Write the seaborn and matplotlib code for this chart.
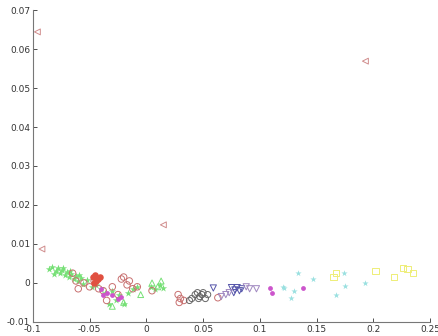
import matplotlib
matplotlib.use('Agg')
import matplotlib.pyplot as plt
import seaborn as sns
from matplotlib.ticker import FuncFormatter

# outliers (left-pointing triangles)
outlier_x = [-0.096, 0.193, 0.015, -0.092]
outlier_y = [0.0644, 0.0569, 0.0149, 0.0087]

green_star_x = [-0.086, -0.083, -0.080, -0.078, -0.076, -0.074, -0.072, -0.070, -0.068, -0.066,
                -0.064, -0.062, -0.060, -0.058, -0.056, -0.052, -0.048, -0.044, -0.040, -0.036,
                -0.033, -0.030, -0.027, -0.024, -0.020, -0.016, -0.012, -0.008, 0.004, 0.008,
                0.012, 0.015, -0.081, -0.073, -0.067, -0.059]
green_star_y = [0.0035, 0.0040, 0.0030, 0.0037, 0.0025, 0.0032, 0.0020, 0.0028, 0.0015, 0.0022,
                0.0010, 0.0018, 0.0005, 0.0012, -0.0002, 0.0008, -0.0010, -0.0005, -0.0015, -0.0025,
                -0.0055, -0.0020, -0.0045, -0.0030, -0.0055, -0.0025, -0.0015, -0.0010, -0.0010, -0.0015,
                -0.0005, -0.0012, 0.0024, 0.0038, 0.0030, 0.0020]

green_tri_x = [-0.030, -0.020, -0.005, 0.005, 0.010, 0.013]
green_tri_y = [-0.0060, -0.0050, -0.0030, 0.0000, -0.0010, 0.0005]

red_circ_x = [-0.065, -0.062, -0.060, -0.055, -0.050, -0.046, -0.042, -0.038, -0.035, -0.030,
              -0.025, -0.022, -0.020, -0.017, -0.015, -0.012, -0.008, 0.005, 0.028, 0.029,
              0.030, 0.033, 0.063]
red_circ_y = [0.0025, 0.0005, -0.0015, 0.0000, -0.0010, 0.0005, -0.0015, -0.0020, -0.0045, -0.0010,
              -0.0030, 0.0010, 0.0015, -0.0005, 0.0005, -0.0015, -0.0010, -0.0020, -0.0030, -0.0050,
              -0.0040, -0.0045, -0.0038]

red_fill_x = [-0.047, -0.045, -0.043, -0.041, -0.044, -0.046]
red_fill_y = [0.0015, 0.0020, 0.0010, 0.0015, 0.0005, 0.0000]

magenta_x = [-0.038, -0.035, -0.030, -0.025, -0.022, -0.040, 0.109, 0.111, 0.138]
magenta_y = [-0.0030, -0.0025, -0.0030, -0.0040, -0.0035, -0.0015, -0.0013, -0.0026, -0.0013]

black_x = [0.040, 0.043, 0.045, 0.047, 0.049, 0.050, 0.052, 0.054, 0.046, 0.038]
black_y = [-0.0040, -0.0030, -0.0025, -0.0035, -0.0030, -0.0025, -0.0040, -0.0030, -0.0040, -0.0045]

blue_x = [0.059, 0.075, 0.078, 0.080, 0.082, 0.077, 0.084]
blue_y = [-0.0013, -0.0012, -0.0018, -0.0012, -0.0020, -0.0025, -0.0015]

purple_x = [0.070, 0.066, 0.088, 0.091, 0.097, 0.073]
purple_y = [-0.0030, -0.0035, -0.0010, -0.0015, -0.0015, -0.0025]

cyan_x = [0.134, 0.120, 0.130, 0.127, 0.147, 0.174, 0.175, 0.167, 0.193, 0.121]
cyan_y = [0.0026, -0.0010, -0.0020, -0.0038, 0.0010, 0.0026, -0.0008, -0.0030, 0.0000, -0.0013]

yellow_x = [0.167, 0.202, 0.218, 0.226, 0.230, 0.235, 0.165]
yellow_y = [0.0026, 0.0030, 0.0015, 0.0038, 0.0036, 0.0026, 0.0015]

sns.set_style('ticks')
plt.rcParams['axes.unicode_minus'] = False

fig = plt.figure(figsize=(4.38, 3.36), dpi=100)
ax = fig.add_axes([0.075, 0.042, 0.907, 0.928])

groups = [
    (green_star_x, green_star_y, '*', '#77e077', True, 30),
    (green_tri_x, green_tri_y, '^', '#77e077', False, 18),
    (red_circ_x, red_circ_y, 'o', '#c87070', False, 22),
    (red_fill_x, red_fill_y, 'o', '#e05040', True, 22),
    (magenta_x, magenta_y, 'o', '#cc55cc', True, 12),
    (black_x, black_y, 'o', '#666666', False, 20),
    (blue_x, blue_y, 'v', '#5555aa', False, 20),
    (purple_x, purple_y, 'v', '#a088c0', False, 20),
    (cyan_x, cyan_y, '*', '#99e0e0', True, 22),
    (yellow_x, yellow_y, 's', '#eeee77', False, 22),
    (outlier_x, outlier_y, '<', '#d08c8c', False, 18),
]

for gx, gy, m, c, filled, s in groups:
    if filled:
        sns.scatterplot(x=gx, y=gy, marker=m, color=c, s=s, linewidth=0, ax=ax)
    else:
        sns.scatterplot(x=gx, y=gy, marker=m, s=s, facecolor='none', edgecolor=c,
                        linewidth=0.7, ax=ax)

ax.set_xlim(-0.1, 0.25)
ax.set_ylim(-0.01, 0.07)
ax.set_xticks([-0.1, -0.05, 0, 0.05, 0.1, 0.15, 0.2, 0.25])
ax.set_yticks([-0.01, 0, 0.01, 0.02, 0.03, 0.04, 0.05, 0.06, 0.07])
ax.xaxis.set_major_formatter(FuncFormatter(lambda v, p: '%g' % round(v, 3)))
ax.yaxis.set_major_formatter(FuncFormatter(lambda v, p: '%g' % round(v, 3)))
ax.tick_params(direction='in', labelsize=6.5, length=3, width=0.6, colors='#333333', pad=2)
sns.despine(ax=ax)
for sp in ['left', 'bottom']:
    ax.spines[sp].set_color('#777777')
    ax.spines[sp].set_linewidth(0.8)

fig.savefig('out.png', dpi=100)
